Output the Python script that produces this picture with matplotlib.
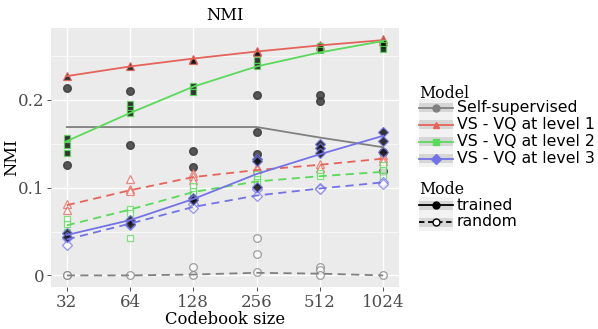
import numpy as np
import matplotlib
matplotlib.use("Agg")
from matplotlib import pyplot as plt
from matplotlib.patches import Rectangle
from matplotlib.lines import Line2D

# codebook sizes on the x axis
sizes = [32, 64, 128, 256, 512, 1024]
models = ["Self-supervised", "VS - VQ at level 1", "VS - VQ at level 2", "VS - VQ at level 3"]
modes = ["trained", "random"]

# mean lines
ss_trained_mean = [0.169, 0.169, 0.169, 0.169, 0.157, 0.146]
ss_random_mean = [0.000, 0.000, 0.001, 0.003, 0.002, 0.000]
l1_trained_mean = [0.227, 0.238, 0.247, 0.255, 0.262, 0.268]
l1_random_mean = [0.080, 0.097, 0.112, 0.120, 0.126, 0.133]
l2_trained_mean = [0.153, 0.185, 0.215, 0.238, 0.254, 0.267]
l2_random_mean = [0.057, 0.075, 0.095, 0.107, 0.113, 0.118]
l3_trained_mean = [0.046, 0.063, 0.087, 0.1155, 0.138, 0.159]
l3_random_mean = [0.041, 0.059, 0.078, 0.091, 0.099, 0.106]

# single runs (points), one list per codebook size
ss_trained_runs = [[0.213, 0.126], [0.210, 0.148], [0.142, 0.123], [0.205, 0.163, 0.138],
                   [0.206, 0.199], [0.141, 0.119]]
ss_random_runs = [[0.0, 0.001], [0.0], [0.010, 0.0], [0.043, 0.024, 0.004],
                  [0.010, 0.006, 0.001], [0.0]]
l1_trained_runs = [[0.227], [0.238], [0.247, 0.245], [0.256, 0.254], [0.263, 0.261], [0.269, 0.267]]
l1_random_runs = [[0.081, 0.074], [0.110, 0.098, 0.096], [0.117, 0.113, 0.109], [0.124, 0.121],
                  [0.127, 0.122], [0.137, 0.134, 0.130]]
l2_trained_runs = [[0.157, 0.149, 0.139], [0.195, 0.189, 0.185], [0.216, 0.209], [0.245, 0.238],
                   [0.261, 0.257], [0.265, 0.262, 0.258]]
l2_random_runs = [[0.064, 0.058, 0.050], [0.076, 0.071, 0.043], [0.102, 0.096, 0.093],
                  [0.115, 0.110, 0.106], [0.117, 0.113], [0.126, 0.120, 0.113]]
l3_trained_runs = [[0.048, 0.044], [0.063, 0.058], [0.088, 0.086], [0.133, 0.130, 0.101],
                   [0.150, 0.145, 0.139], [0.163, 0.153, 0.141]]
l3_random_runs = [[0.043, 0.035], [0.058, 0.057], [0.081, 0.077], [0.098, 0.090],
                  [0.100, 0.098], [0.106, 0.104]]

colors = ["#808080", "#E5635A", "#5AD95A", "#7373E6"]
markers = ["o", "^", "s", "D"]
msizes = [5.5, 5.5, 5.0, 4.8]

series = [
    (ss_trained_mean, ss_random_mean, ss_trained_runs, ss_random_runs),
    (l1_trained_mean, l1_random_mean, l1_trained_runs, l1_random_runs),
    (l2_trained_mean, l2_random_mean, l2_trained_runs, l2_random_runs),
    (l3_trained_mean, l3_random_mean, l3_trained_runs, l3_random_runs),
]

plt.rcParams["font.family"] = "DejaVu Serif"
fig = plt.figure(figsize=(5.98, 3.29), dpi=100)
ax = fig.add_axes([51 / 598, 42 / 329, 348 / 598, 259 / 329])
ax.set_facecolor("#EBEBEB")
for s in ax.spines.values():
    s.set_visible(False)

xs = np.log2(sizes)
dash = (0, (4.5, 3))

def runs_xy(runs):
    px, py = [], []
    for x, r in zip(xs, runs):
        px += [x] * len(r)
        py += r
    return px, py

for i, (tm, rm, tr, rr) in enumerate(series):
    c = colors[i]
    px, py = runs_xy(rr)
    ax.plot(px, py, ls="none", marker=markers[i], ms=msizes[i], mfc=(1, 1, 1, 0.55),
            mec=c, alpha=0.75, mew=0.9, zorder=3)
    px, py = runs_xy(tr)
    if i == 0:
        ax.plot(px, py, ls="none", marker="o", ms=msizes[i], mfc="#3a3a3a", mec="#3a3a3a",
                alpha=0.85, zorder=3)
    else:
        ax.plot(px, py, ls="none", marker=markers[i], ms=msizes[i], mfc="#111111",
                mec=c, alpha=0.85, mew=0.9, zorder=3)

for i, (tm, rm, tr, rr) in enumerate(series):
    c = colors[i]
    ax.plot(xs, tm, color=c, lw=1.3, zorder=4)
    ax.plot(xs, rm, color=c, lw=1.3, ls=dash, zorder=4)

ax.set_xlim(4.75, 10.25)
ax.set_ylim(-0.0132, 0.2818)
ax.set_xticks(xs)
ax.set_xticklabels([str(s) for s in sizes])
ax.set_yticks([0, 0.1, 0.2])
ax.set_yticklabels(["0", "0.1", "0.2"])
ax.set_yticks([0.05, 0.15, 0.25], minor=True)
ax.grid(True, which="major", color="white", lw=1.0)
ax.grid(True, which="minor", axis="y", color="white", lw=0.5)
ax.set_axisbelow(True)
ax.tick_params(which="major", length=3, width=0.6, color="#333333", labelsize=12,
               labelcolor="#4D4D4D", pad=2)
ax.tick_params(which="minor", length=0)
ax.set_xlabel("Codebook size", fontsize=11.8, labelpad=0)
ax.set_ylabel("NMI", fontsize=11.8)
ax.yaxis.set_label_coords(-0.088, 0.5)
ax.set_title("NMI", fontsize=11.8, pad=6)

# legend drawn by hand in pixel coordinates
lax = fig.add_axes([0, 0, 1, 1], facecolor="none")
lax.set_xlim(0, 598)
lax.set_ylim(329, 0)
lax.axis("off")

def key(yc, line_color, ls, marker, mfc, mec):
    lax.add_patch(Rectangle((419, yc - 8.5), 34, 17, facecolor="#F2F2F2", edgecolor="none"))
    lax.add_patch(Rectangle((419, yc - 4.5), 34, 9, facecolor="#D6D6D6", edgecolor="none"))
    lax.add_line(Line2D([419, 453], [yc, yc], color=line_color, lw=1.3, ls=ls))
    lax.add_line(Line2D([436], [yc], marker=marker, ms=5, mfc=mfc, mec=mec, ls="none"))

lax.text(419, 93, "Model", fontsize=11.3, va="center", ha="left")
rows_model = [107.5, 124.5, 141.5, 158.5]
for i, m in enumerate(models):
    key(rows_model[i], colors[i], "-", markers[i], colors[i], colors[i])
    lax.text(457, rows_model[i], m, fontsize=11.3, va="center", ha="left", family="DejaVu Sans")

lax.text(419, 189, "Mode", fontsize=11.3, va="center", ha="left")
rows_mode = [205, 222]
key(rows_mode[0], "black", "-", "o", "black", "black")
lax.text(457, rows_mode[0], modes[0], fontsize=11.3, va="center", ha="left", family="DejaVu Sans")
key(rows_mode[1], "black", (0, (3, 2)), "o", "white", "black")
lax.text(457, rows_mode[1], modes[1], fontsize=11.3, va="center", ha="left", family="DejaVu Sans")

fig.savefig("out.png", dpi=100)
